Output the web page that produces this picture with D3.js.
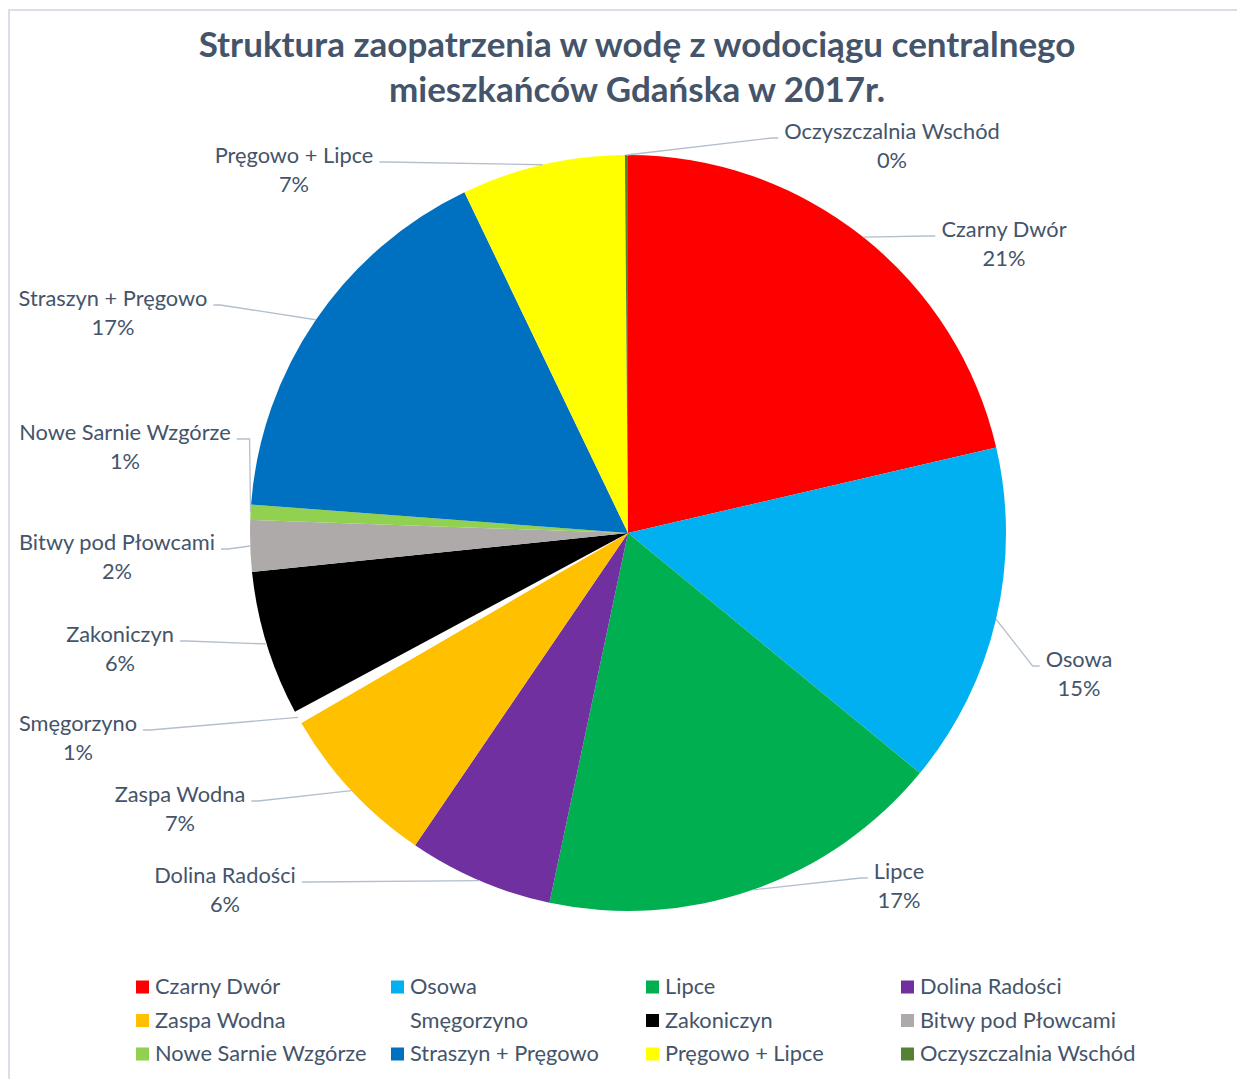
<!DOCTYPE html>
<html>
<head>
<meta charset="utf-8">
<script src="https://cdn.jsdelivr.net/npm/d3@7/dist/d3.min.js"></script>
<style>
  html, body { margin: 0; padding: 0; background: #fff; }
  svg { display: block; }
  text { font-family: Lato, "Open Sans", sans-serif; }
</style>
</head>
<body>
<svg id="chart" width="1237" height="1079"></svg>
<script>
// Water supply sources (share of total, %)
const categories = [
  "Czarny Dwór", "Osowa", "Lipce", "Dolina Radości", "Zaspa Wodna",
  "Smęgorzyno", "Zakoniczyn", "Bitwy pod Płowcami", "Nowe Sarnie Wzgórze",
  "Straszyn + Pręgowo", "Pręgowo + Lipce", "Oczyszczalnia Wschód"
];
const shares = [21.4, 14.6, 17.4, 6.2, 7.1, 0.55, 6.2, 2.2, 0.65, 16.7, 7.0, 0.13];
const colors = [
  "#FF0000", "#00B0F0", "#00B050", "#7030A0", "#FFC000",
  "#FFFFFF", "#000000", "#AEAAAA", "#92D050",
  "#0070C0", "#FFFF00", "#548235"
];
const titleLines = [
  "Struktura zaopatrzenia w wodę z wodociągu centralnego",
  "mieszkańców Gdańska w 2017r."
];

// Label block centres (first text line) for each slice, in draw order
const labelLayout = [
  [1004, 228], [1079, 658], [899, 870], [225, 874], [180, 793],
  [78, 722], [120, 633], [117, 541], [125, 431],
  [113, 297], [294, 154], [892, 130]
];

const svg = d3.select("#chart");
const textColor = "#44546A";

// frame
svg.append("path")
  .attr("d", "M9,1079 L9,10 L1237,10")
  .attr("fill", "none")
  .attr("stroke", "#D9DFE8")
  .attr("stroke-width", 2);

// title
svg.append("g").selectAll("text")
  .data(titleLines)
  .join("text")
  .attr("x", 637)
  .attr("y", (d, i) => 42.5 + i * 45)
  .attr("text-anchor", "middle")
  .attr("dominant-baseline", "central")
  .attr("font-size", 35)
  .attr("font-weight", 700)
  .attr("fill", textColor)
  .text(d => d);

const cx = 628, cy = 533, R = 378;
const data = categories.map((c, i) => ({ name: c, value: shares[i], color: colors[i] }));
const total = d3.sum(shares);

const pie = d3.pie().sort(null).value(d => d.value);
const arcs = pie(data);
const arc = d3.arc().innerRadius(0).outerRadius(R);
const edgeArc = d3.arc().innerRadius(R).outerRadius(R);

const g = svg.append("g").attr("transform", `translate(${cx},${cy})`);
g.selectAll("path.slice")
  .data(arcs)
  .join("path")
  .attr("class", "slice")
  .attr("d", arc)
  .attr("fill", d => d.data.color);

// leader lines
const leaders = svg.append("g")
  .attr("fill", "none")
  .attr("stroke", "#B4BFCD")
  .attr("stroke-width", 1.3);

const labels = svg.append("g");
const labelSize = 21.8;

arcs.forEach((a, i) => {
  const [ex, ey] = edgeArc.centroid(a);
  const sx = cx + ex, sy = cy + ey;
  const [lx, ly] = labelLayout[i];
  const name = a.data.name;
  const pct = Math.round(a.data.value / total * 100) + "%";

  const t = labels.append("text")
    .attr("text-anchor", "middle")
    .attr("font-size", labelSize)
    .attr("fill", textColor);
  t.append("tspan").attr("x", lx).attr("y", ly).attr("dominant-baseline", "central").text(name);
  t.append("tspan").attr("x", lx).attr("y", ly + 29).attr("dominant-baseline", "central").text(pct);

  const w = t.node().getBBox().width;
  const rightSide = lx > cx;
  const attachX = rightSide ? lx - w / 2 - 6 : lx + w / 2 + 6;
  const attachY = ly + 8;
  let pts;
  if (name === "Nowe Sarnie Wzgórze") {
    pts = [[sx, sy], [sx - 1, attachY], [attachX, attachY]];
  } else {
    const bendX = rightSide ? attachX - 7 : attachX + 7;
    pts = [[sx, sy], [bendX, attachY], [attachX, attachY]];
  }
  leaders.append("path").attr("d", d3.line()(pts));
});

// legend
const legend = svg.append("g");
const colX = [136, 391, 646, 901];
const rowY = [986.5, 1020, 1053.5];
data.forEach((d, i) => {
  const x = colX[i % 4], y = rowY[Math.floor(i / 4)];
  legend.append("rect")
    .attr("x", x).attr("y", y - 6)
    .attr("width", 13).attr("height", 13)
    .attr("fill", d.color);
  legend.append("text")
    .attr("x", x + 19).attr("y", y - 1)
    .attr("dominant-baseline", "central")
    .attr("font-size", labelSize)
    .attr("fill", textColor)
    .text(d.name);
});
</script>
</body>
</html>
